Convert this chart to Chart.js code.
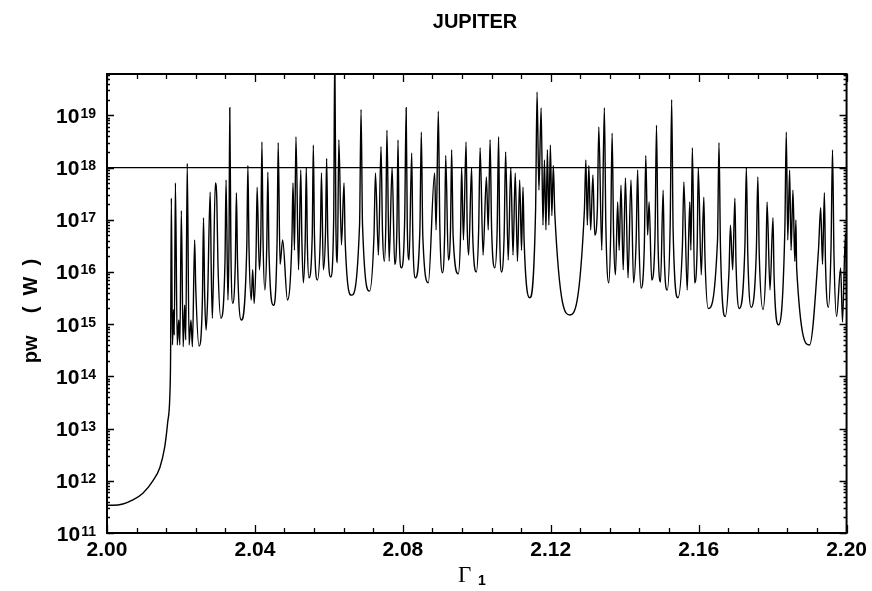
<!DOCTYPE html>
<html>
<head>
<meta charset="utf-8">
<script src="https://cdn.jsdelivr.net/npm/chart.js@4/dist/chart.umd.min.js"></script>
<style>
  html, body { margin: 0; padding: 0; background: #fff; }
  canvas { display: block; }
</style>
</head>
<body>
<canvas id="jupiterChart" width="872" height="591"></canvas>
<script>
// Gamma_1 values (x) and power pw in W (y): troughs and peak tips
const gamma1 = [
  2.0000, 2.0016, 2.0043, 2.0070, 2.0097, 2.0124, 2.0143, 2.0156, 2.0164, 2.0170,
  2.0172, 2.0174, 2.0177, 2.0180, 2.0182, 2.0185, 2.0190, 2.0194, 2.0197, 2.0201,
  2.0206, 2.0210, 2.0213, 2.0217, 2.0222, 2.0227, 2.0231, 2.0237, 2.0249, 2.0261,
  2.0268, 2.0272, 2.0279, 2.0285, 2.0293, 2.0297, 2.0308, 2.0322, 2.0327, 2.0332,
  2.0340, 2.0350, 2.0363, 2.0381, 2.0390, 2.0394, 2.0398, 2.0406, 2.0412, 2.0419,
  2.0427, 2.0435, 2.0450, 2.0463, 2.0468, 2.0475, 2.0488, 2.0503, 2.0507, 2.0511,
  2.0518, 2.0524, 2.0531, 2.0539, 2.0546, 2.0558, 2.0569, 2.0580, 2.0585, 2.0594,
  2.0605, 2.0616, 2.0623, 2.0627, 2.0634, 2.0641, 2.0661, 2.0687, 2.0710, 2.0726,
  2.0734, 2.0741, 2.0750, 2.0757, 2.0763, 2.0771, 2.0778, 2.0787, 2.0796, 2.0809,
  2.0817, 2.0824, 2.0834, 2.0850, 2.0869, 2.0886, 2.0890, 2.0896, 2.0907, 2.0916,
  2.0923, 2.0932, 2.0950, 2.0959, 2.0964, 2.0971, 2.0978, 2.0986, 2.0999, 2.1009,
  2.1017, 2.1026, 2.1031, 2.1036, 2.1049, 2.1059, 2.1067, 2.1078, 2.1085, 2.1092,
  2.1098, 2.1104, 2.1110, 2.1116, 2.1121, 2.1125, 2.1143, 2.1163, 2.1168, 2.1174,
  2.1179, 2.1183, 2.1187, 2.1191, 2.1195, 2.1199, 2.1203, 2.1207, 2.1211, 2.1252,
  2.1291, 2.1295, 2.1299, 2.1303, 2.1308, 2.1314, 2.1319, 2.1330, 2.1338, 2.1345,
  2.1357, 2.1366, 2.1375, 2.1381, 2.1385, 2.1390, 2.1396, 2.1402, 2.1409, 2.1417,
  2.1424, 2.1435, 2.1444, 2.1457, 2.1462, 2.1466, 2.1473, 2.1486, 2.1497, 2.1504,
  2.1515, 2.1527, 2.1544, 2.1560, 2.1569, 2.1576, 2.1579, 2.1583, 2.1589, 2.1599,
  2.1607, 2.1614, 2.1626, 2.1655, 2.1672, 2.1686, 2.1692, 2.1698, 2.1710, 2.1729,
  2.1742, 2.1760, 2.1774, 2.1785, 2.1793, 2.1801, 2.1816, 2.1837, 2.1841, 2.1846,
  2.1850, 2.1855, 2.1860, 2.1863, 2.1865, 2.1900, 2.1924, 2.1930, 2.1935, 2.1940,
  2.1951, 2.1962, 2.1973, 2.1984, 2.1989, 2.1997, 2.2000
];
const pw = [
  3.4e11, 3.4e11, 3.6e11, 4.3e11, 5.8e11, 1.0e12, 1.8e12, 4.4e12, 1.3e13, 4.4e13,
  2.6e14, 2.6e17, 4.0e14, 1.9e15, 6.2e14, 5.1e17, 4.0e14, 1.2e15, 4.0e14, 1.5e17,
  3.7e14, 2.3e15, 5.0e14, 1.2e18, 4.0e14, 1.2e15, 3.7e14, 4.1e16, 3.8e14, 1.1e17,
  7.7e14, 2.9e15, 3.4e17, 1.3e15, 5.1e17, 2.4e17, 1.3e15, 5.8e17, 2.9e15, 1.4e19,
  2.5e15, 3.3e17, 1.2e15, 1.1e18, 2.9e15, 1.1e16, 2.5e15, 4.2e17, 1.1e16, 3.1e18,
  4.5e15, 8.2e17, 2.3e15, 3.0e18, 1.4e16, 4.1e16, 2.9e15, 5.1e17, 2.6e16, 3.9e18,
  1.1e16, 9.0e17, 6.2e15, 1.0e18, 7.7e15, 2.7e18, 7.0e15, 7.9e17, 1.1e16, 1.5e18,
  8.0e15, 2.0e20, 1.5e16, 3.4e18, 3.3e16, 5.1e17, 3.6e15, 1.3e19, 4.3e15, 7.9e17,
  2.1e16, 2.5e18, 1.6e16, 5.2e18, 1.6e16, 1.0e18, 1.4e16, 3.4e18, 1.2e16, 1.4e19,
  1.7e16, 1.9e18, 7.7e15, 4.8e18, 6.2e15, 7.9e17, 6.4e16, 1.2e19, 9.6e15, 1.7e18,
  1.7e16, 2.2e18, 9.2e15, 1.0e18, 4.1e16, 3.1e18, 2.1e16, 1.0e18, 1.0e16, 2.4e18,
  2.1e16, 6.6e17, 6.4e16, 3.4e18, 1.2e16, 3.9e18, 1.0e16, 2.0e18, 1.7e16, 1.0e18,
  2.1e16, 7.9e17, 1.6e16, 5.8e17, 2.6e16, 4.2e17, 3.2e15, 2.8e19, 3.7e17, 1.4e19,
  7.9e16, 1.4e18, 6.4e16, 2.2e18, 7.9e16, 2.7e18, 1.2e17, 1.1e18, 1.3e17, 1.5e15,
  1.5e17, 1.4e18, 7.9e16, 1.1e18, 6.4e16, 7.2e17, 5.1e16, 6.0e18, 2.6e16, 1.4e19,
  6.2e15, 4.6e18, 8.8e15, 2.2e17, 2.6e16, 4.6e17, 1.1e16, 6.3e17, 7.7e15, 5.8e17,
  6.2e15, 9.0e17, 4.9e15, 1.7e18, 5.1e16, 2.2e17, 7.0e15, 6.5e18, 6.4e15, 3.7e17,
  4.5e15, 2.0e19, 3.2e15, 5.3e17, 4.5e15, 2.2e17, 2.6e16, 2.4e18, 6.2e15, 1.0e18,
  8.8e15, 2.7e17, 2.0e15, 3.0e18, 1.4e15, 7.9e16, 1.1e16, 2.6e17, 2.0e15, 1.0e18,
  2.1e15, 6.6e17, 1.9e15, 2.2e17, 4.5e15, 1.1e17, 9.7e14, 4.8e18, 4.1e16, 9.0e17,
  2.6e16, 3.7e17, 1.6e16, 9.9e16, 1.2e16, 4.0e14, 2.6e16, 1.7e17, 1.4e16, 3.3e17,
  2.1e15, 2.2e18, 1.4e15, 1.2e16, 1.1e15, 5.6e16, 2.9e15
];

// where the narrow spikes leave the broad valleys (spike feet)
const footGamma = [
  2.0240, 2.0258, 2.0264, 2.0282, 2.0300, 2.0319, 2.0330, 2.0335, 2.0347, 2.0353,
  2.0378, 2.0384, 2.0403, 2.0416, 2.0422, 2.0432, 2.0438, 2.0460, 2.0500, 2.0527,
  2.0536, 2.0542, 2.0555, 2.0561, 2.0577, 2.0591, 2.0597, 2.0613, 2.0619, 2.0644,
  2.0683, 2.0691, 2.0722, 2.0745, 2.0754, 2.0784, 2.0790, 2.0805, 2.0812, 2.0827,
  2.0846, 2.0854, 2.0900, 2.0913, 2.0929, 2.0936, 2.0956, 2.0974, 2.0989, 2.1005,
  2.1040, 2.1055, 2.1062, 2.1074, 2.1128, 2.1159, 2.1326, 2.1349, 2.1362, 2.1370,
  2.1431, 2.1439, 2.1453, 2.1482, 2.1490, 2.1507, 2.1523, 2.1531, 2.1556, 2.1596,
  2.1617, 2.1651, 2.1659, 2.1682, 2.1701, 2.1725, 2.1733, 2.1756, 2.1764, 2.1782,
  2.1804, 2.1833, 2.1943, 2.1958, 2.1966
];
const footPw = [
  5e15, 3e15, 4e15, 1e16, 1.5e16, 1.5e16, 4e16, 3e16, 1.5e16, 1.5e16,
  3e16, 3e16, 2e16, 5e16, 4e16, 3e16, 2.5e16, 4e16, 4e16, 4e16,
  4e16, 3e16, 5e16, 5e16, 5e16, 6e16, 5e16, 1e17, 8e16, 4e16,
  8e16, 8e16, 5e16, 6e16, 8e16, 7e16, 6e16, 1e17, 8e16, 5e16,
  6e16, 5e16, 8e16, 5e16, 7e16, 5e16, 5e16, 8e16, 5e16, 6e16,
  7e16, 6e16, 5e16, 5e16, 4e16, 1.5e17, 1.5e17, 8e16, 5e16, 5e16,
  4e16, 3e16, 3e16, 5e16, 4e16, 2e16, 8e16, 6e16, 3e16, 3e16,
  2e16, 4e16, 3e16, 1e16, 1.5e16, 3e16, 2e16, 2.5e16, 2e16, 1.5e16,
  8e15, 6e16, 1.5e16, 3e16, 2e16
];

// horizontal reference level
const levelX = [2.00, 2.20];
const levelPw = [1e18, 1e18];

// axis ticks
const xTickValues = [2.00, 2.04, 2.08, 2.12, 2.16, 2.20];
const xTickLabels = ['2.00', '2.04', '2.08', '2.12', '2.16', '2.20'];
const yDecades = [11, 12, 13, 14, 15, 16, 17, 18, 19];

const SANS = "'Liberation Sans', Arial, sans-serif";

const spectrum = gamma1.map((g, i) => ({ x: g, y: pw[i] }))
  .concat(footGamma.map((g, i) => ({ x: g, y: footPw[i] })))
  .sort((p, q) => p.x - q.x);

const decorations = {
  id: 'decorations',
  afterDraw(chart) {
    const ctx = chart.ctx;
    const a = chart.chartArea;
    const x = chart.scales.x, y = chart.scales.y;
    ctx.save();
    ctx.strokeStyle = '#000';
    ctx.fillStyle = '#000';

    // frame
    ctx.lineWidth = 2;
    ctx.strokeRect(a.left, a.top, a.right - a.left, a.bottom - a.top);

    // x ticks (inward, top and bottom)
    ctx.lineWidth = 1.3;
    ctx.beginPath();
    for (let i = 0; i <= 25; i++) {
      const px = Math.round(x.getPixelForValue(2 + i * 0.008)) + 0.5;
      const len = i % 5 === 0 ? 8 : 5;
      ctx.moveTo(px, a.bottom); ctx.lineTo(px, a.bottom - len);
      ctx.moveTo(px, a.top); ctx.lineTo(px, a.top + len);
    }
    // y ticks (inward, left and right)
    yDecades.forEach(n => {
      for (let k = 1; k <= 9; k++) {
        const v = k * Math.pow(10, n);
        if (v > y.max) break;
        const py = Math.round(y.getPixelForValue(v)) + 0.5;
        const len = k === 1 ? 7 : 3;
        ctx.moveTo(a.left, py); ctx.lineTo(a.left + len, py);
        ctx.moveTo(a.right, py); ctx.lineTo(a.right - len, py);
      }
    });
    ctx.stroke();

    // y tick labels 10^n
    yDecades.forEach(n => {
      const py = y.getPixelForValue(Math.pow(10, n));
      ctx.textBaseline = 'alphabetic';
      ctx.textAlign = 'right';
      ctx.font = 'bold 14px ' + SANS;
      const exp = String(n);
      const ew = ctx.measureText(exp).width;
      ctx.fillText(exp, 96, py + 2.5);
      ctx.font = 'bold 21px ' + SANS;
      ctx.fillText('10', 96 - ew - 1, py + 7.5);
    });

    // title
    ctx.textAlign = 'center';
    ctx.font = 'bold 20px ' + SANS;
    ctx.fillText('JUPITER', 475, 28);

    // y axis title
    ctx.save();
    ctx.translate(37, 311);
    ctx.rotate(-Math.PI / 2);
    ctx.font = 'bold 20px ' + SANS;
    ctx.fillText('pw    (  W  )', 0, 0);
    ctx.restore();

    // x axis title: Gamma with subscript 1
    ctx.textAlign = 'left';
    ctx.font = '23px "Liberation Serif", serif';
    ctx.fillText('\u0393', 458, 582);
    ctx.font = 'bold 14px ' + SANS;
    ctx.fillText('1', 478, 585);
    ctx.restore();
  }
};

new Chart(document.getElementById('jupiterChart'), {
  type: 'line',
  data: {
    datasets: [
      {
        data: spectrum,
        borderColor: '#000',
        borderWidth: 1.4,
        pointRadius: 0,
        cubicInterpolationMode: 'monotone',
        fill: false
      },
      {
        data: levelX.map((g, i) => ({ x: g, y: levelPw[i] })),
        borderColor: '#000',
        borderWidth: 1.3,
        pointRadius: 0,
        fill: false
      }
    ]
  },
  options: {
    responsive: false,
    animation: false,
    layout: { padding: { top: 74, right: 22, left: 0, bottom: 0 } },
    plugins: { legend: { display: false }, tooltip: { enabled: false }, title: { display: false } },
    scales: {
      x: {
        type: 'linear',
        min: 2.0,
        max: 2.2,
        bounds: 'data',
        afterBuildTicks: scale => { scale.ticks = xTickValues.map(v => ({ value: v })); },
        afterFit: scale => { scale.height = 58; },
        grid: { display: false, drawTicks: false },
        border: { display: false },
        ticks: {
          autoSkip: false,
          maxRotation: 0,
          padding: 5,
          color: '#000',
          font: { family: SANS, size: 21, weight: 'bold' },
          callback: (v, i) => xTickLabels[i]
        }
      },
      y: {
        type: 'logarithmic',
        min: 1e11,
        max: 6.2e19,
        bounds: 'data',
        afterFit: scale => { scale.width = 107; },
        grid: { display: false, drawTicks: false },
        border: { display: false },
        ticks: { display: false }
      }
    }
  },
  plugins: [decorations]
});
</script>
</body>
</html>
